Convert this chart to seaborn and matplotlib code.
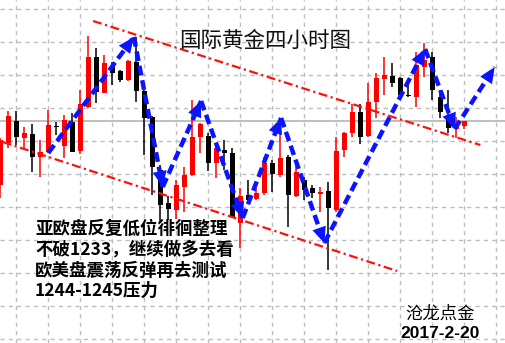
import matplotlib
matplotlib.use("Agg")
import matplotlib.pyplot as plt
import seaborn as sns
import numpy as np

# ---- data: 4-hour gold candles (price units arbitrary) ----
opens  = [158, 200, 222, 205, 209, 186, 191, 217, 197, 221, 192, 236, 286, 250, 277, 272,
          263, 281, 252, 226, 173, 140, 133, 156, 168, 206, 207, 180, 193, 190, 120, 148,
          144, 150, 180, 168, 186, 147, 163, 155, 149, 152, 133, 193, 210, 231, 207, 241,
          264, 267, 265, 248, 246, 276, 286, 246, 227, 214, 217]
closes = [203, 227, 206, 210, 186, 191, 218, 216, 223, 191, 239, 286, 251, 280, 270, 263,
          282, 252, 225, 176, 138, 134, 158, 168, 206, 219, 180, 195, 190, 126, 147, 143,
          150, 180, 169, 185, 148, 171, 153, 150, 151, 135, 192, 210, 231, 206, 241, 265,
          268, 260, 248, 247, 278, 283, 253, 231, 215, 219, 222]
highs  = [205, 232, 232, 216, 219, 203, 233, 221, 228, 230, 253, 307, 295, 288, 281, 273,
          283, 306, 253, 227, 178, 147, 163, 176, 243, 220, 210, 200, 203, 195, 155, 163,
          157, 186, 183, 218, 188, 183, 166, 158, 156, 161, 206, 211, 239, 239, 260, 270,
          286, 280, 266, 259, 291, 300, 291, 253, 253, 226, 222]
lows   = [145, 195, 198, 195, 171, 166, 190, 208, 185, 191, 189, 235, 240, 250, 258, 261,
          262, 241, 188, 148, 121, 123, 124, 131, 167, 190, 172, 165, 173, 125, 95, 141,
          143, 148, 151, 166, 116, 146, 143, 145, 131, 73, 131, 186, 206, 199, 206, 225,
          248, 256, 247, 246, 236, 266, 243, 225, 210, 205, 214]

# trend channel (candle index, price)
upper_line = ([11.6, 60.0], [322, 198])
lower_line = ([0.3, 49.6], [201, 72])
# blue forecast path (candle index, price)
path_x = [6.0, 16.7, 20.3, 25.1, 30.3, 35.1, 40.5, 53.1, 56.8, 61.8]
path_y = [190, 306, 156, 242, 125, 225, 100, 294, 214, 276]

title = "国际黄金四小时图"
note_lines = ["亚欧盘反复低位徘徊整理", "不破1233，继续做多去看", "欧美盘震荡反弹再去测试", "1244-1245压力"]
sign = "沧龙点金"
date = "2017-2-20"

sns.set_theme(style="white")
plt.rcParams['font.family'] = ['Noto Sans CJK SC', 'DejaVu Sans']

W, H = 506, 343
fig = plt.figure(figsize=(W / 100, H / 100), dpi=100)
ax = fig.add_axes([0, 0, 1, 1])
ax.set_xlim(-0.0375, (W - 0.3) / 8)
ax.set_ylim(0, H)
for s in ax.spines.values():
    s.set_visible(False)
ax.set_xticks(np.arange(2, 63, 4))
ax.set_yticks(np.arange(334, 0, -33))
ax.tick_params(left=False, bottom=False, labelleft=False, labelbottom=False)
ax.grid(True, color="#bdbdbd", linestyle=(0, (3, 3)), linewidth=1.0)
ax.set_axisbelow(True)

# current price line
ax.axhline(closes[-1], color="#b4b4b4", lw=1.2, zorder=1)

idx = np.arange(len(opens))
o = np.array(opens); c = np.array(closes); h = np.array(highs); l = np.array(lows)
up = c >= o
cols = np.where(up, "#ff0000", "#000000")
ax.vlines(idx, l, h, colors=cols, lw=1.1, zorder=2)
bottoms = np.minimum(o, c)
heights = np.maximum(np.abs(c - o), 1.2)
ax.bar(idx, heights, bottom=bottoms, width=0.62, color=cols, linewidth=0, zorder=3)

# channel lines
for xs, ys in (upper_line, lower_line):
    ax.plot(xs, ys, color="#ff1010", lw=1.6, dashes=(4, 1.6, 1, 1.6), zorder=4)

# blue arrows
blue = "#0a14ff"
for i in range(len(path_x) - 1):
    x0, y0, x1, y1 = path_x[i], path_y[i], path_x[i + 1], path_y[i + 1]
    ax.plot([x0, x1], [y0, y1], color=blue, lw=3.2, dashes=(2.2, 1.1),
            solid_capstyle="butt", dash_capstyle="butt", zorder=5)
    xb = x1 - 0.3 * (x1 - x0); yb = y1 - 0.3 * (y1 - y0)
    ax.annotate("", xy=(x1, y1), xytext=(xb, yb),
                arrowprops=dict(arrowstyle="-|>,head_length=0.95,head_width=0.42",
                                color=blue, lw=0, shrinkA=0, shrinkB=0,
                                mutation_scale=12), zorder=6)

def fx(px):
    return px / W

def fy(py):
    return 1 - py / H

fig.text(fx(265), fy(41), title, fontsize=15.5, ha="center", va="center", color="#111111")
for i, t in enumerate(note_lines):
    fig.text(fx(35), fy(229 + 20.7 * i), t, fontsize=12.6, ha="left", va="center",
             color="#000000", fontweight="bold")
fig.text(fx(440), fy(314), sign, fontsize=12.5, ha="center", va="center", color="#000000")
fig.text(fx(440), fy(333), date, fontsize=12.5, ha="center", va="center", color="#000000",
         fontweight="bold", family=["Liberation Sans", "DejaVu Sans"])

fig.savefig("out.png", dpi=100)
